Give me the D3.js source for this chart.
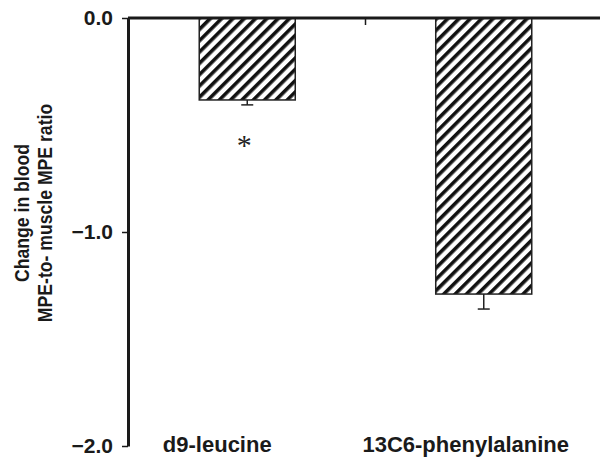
<!DOCTYPE html>
<html>
<head>
<meta charset="utf-8">
<script src="https://cdn.jsdelivr.net/npm/d3@7"></script>
<style>
  html, body { margin: 0; padding: 0; background: #fff; }
  svg text { font-family: "Liberation Sans", Arial, sans-serif; }
</style>
</head>
<body>
<div id="container"></div>
<script>
const categories = ["d9-leucine", "13C6-phenylalanine"];
const values = [-0.383, -1.29];
const errors = [0.023, 0.07];
const significant = [true, false];
const yTicks = [0, -1, -2];

const width = 600;
const height = 459;

const svg = d3.select("#container").append("svg")
    .attr("width", width)
    .attr("height", height)
    .attr("viewBox", [0, 0, width, height]);

const y = d3.scaleLinear()
    .domain([0, -2])
    .range([18, 446]);

const x = d3.scaleBand()
    .domain(categories)
    .range([129, 602])
    .paddingInner(0.594)
    .paddingOuter(0.297);

// hatch pattern
const pat = svg.append("defs").append("pattern")
    .attr("id", "hatch")
    .attr("patternUnits", "userSpaceOnUse")
    .attr("width", 8)
    .attr("height", 8)
    .attr("patternTransform", "rotate(45)");
pat.append("rect")
    .attr("width", 8).attr("height", 8)
    .attr("fill", "#fff");
pat.append("rect")
    .attr("x", 0).attr("width", 3.6).attr("height", 8)
    .attr("fill", "#111");

// bars
svg.selectAll("rect.bar")
    .data(categories)
    .join("rect")
    .attr("class", "bar")
    .attr("x", d => x(d))
    .attr("y", y(0))
    .attr("width", x.bandwidth())
    .attr("height", (d, i) => y(values[i]) - y(0))
    .attr("fill", "url(#hatch)")
    .attr("stroke", "#222")
    .attr("stroke-width", 1.5);

// error bars (downward)
const eb = svg.selectAll("g.err")
    .data(categories)
    .join("g")
    .attr("class", "err")
    .attr("stroke", "#222")
    .attr("stroke-width", 1.5);
eb.append("line")
    .attr("x1", d => x(d) + x.bandwidth() / 2)
    .attr("x2", d => x(d) + x.bandwidth() / 2)
    .attr("y1", (d, i) => y(values[i]))
    .attr("y2", (d, i) => y(values[i] - errors[i]));
eb.append("line")
    .attr("x1", d => x(d) + x.bandwidth() / 2 - 6)
    .attr("x2", d => x(d) + x.bandwidth() / 2 + 6)
    .attr("y1", (d, i) => y(values[i] - errors[i]))
    .attr("y2", (d, i) => y(values[i] - errors[i]));

// significance
svg.selectAll("text.sig")
    .data(categories.filter((d, i) => significant[i]))
    .join("text")
    .attr("class", "sig")
    .attr("x", d => x(d) + x.bandwidth() / 2 - 3)
    .attr("y", d => y(values[categories.indexOf(d)] - errors[categories.indexOf(d)]) + 50)
    .attr("text-anchor", "middle")
    .style("font-family", "'Liberation Serif', 'DejaVu Serif', serif")
    .attr("font-size", 30)
    .attr("fill", "#222")
    .text("*");

// top x axis line at zero
svg.append("line")
    .attr("x1", 128).attr("x2", width)
    .attr("y1", y(0)).attr("y2", y(0))
    .attr("stroke", "#1a1a1a")
    .attr("stroke-width", 3);

// tick between categories
const step = x.step();
svg.append("line")
    .attr("x1", x(categories[1]) - x.paddingInner() * step / 2)
    .attr("x2", x(categories[1]) - x.paddingInner() * step / 2)
    .attr("y1", y(0))
    .attr("y2", y(0) + 7)
    .attr("stroke", "#1a1a1a")
    .attr("stroke-width", 1.5);

// y axis
const yAxis = svg.append("g")
    .attr("transform", "translate(128,0)")
    .call(d3.axisLeft(y)
        .tickValues(yTicks)
        .tickSize(6)
        .tickSizeOuter(0)
        .tickPadding(9)
        .tickFormat(d => d3.format(".1f")(d).replace("-", "\u2013")));
yAxis.select(".domain")
    .attr("stroke", "#1a1a1a")
    .attr("stroke-width", 3);
yAxis.selectAll(".tick line")
    .attr("stroke", "#1a1a1a")
    .attr("stroke-width", 1.5);
yAxis.selectAll(".tick text")
    .attr("font-size", 21)
    .attr("font-weight", "bold")
    .attr("fill", "#1a1a1a")
    .style("font-family", "'Liberation Sans', Arial, sans-serif");

// category labels
const labelShift = [-30, -18];
svg.selectAll("text.cat")
    .data(categories)
    .join("text")
    .attr("class", "cat")
    .attr("x", (d, i) => x(d) + x.bandwidth() / 2 + labelShift[i])
    .attr("y", 452)
    .attr("text-anchor", "middle")
    .attr("font-size", 22)
    .attr("font-weight", "bold")
    .attr("fill", "#1a1a1a")
    .text(d => d);

// y title
const yTitle = svg.append("text")
    .attr("transform", "translate(0,213) rotate(-90) scale(0.84,1)")
    .attr("text-anchor", "middle")
    .attr("font-size", 21)
    .attr("font-weight", "bold")
    .attr("fill", "#1a1a1a");
yTitle.append("tspan").attr("x", 0).attr("y", 29).text("Change in blood");
yTitle.append("tspan").attr("x", 0).attr("y", 52).text("MPE-to- muscle MPE ratio");
</script>
</body>
</html>
